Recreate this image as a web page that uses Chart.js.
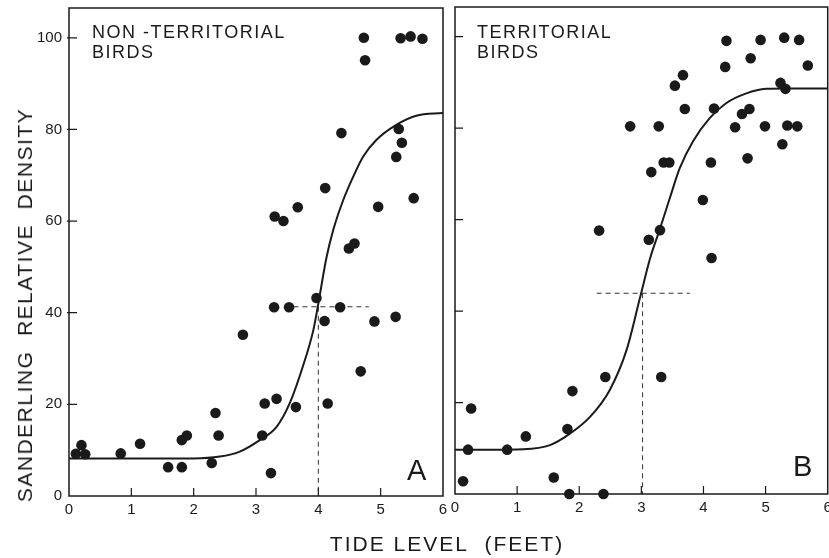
<!DOCTYPE html>
<html>
<head>
<meta charset="utf-8">
<script src="https://cdn.jsdelivr.net/npm/chart.js@4.4.0/dist/chart.umd.min.js"></script>
<style>
  body { margin: 0; background: #fff; width: 829px; height: 558px; overflow: hidden; position: relative; font-family: "Liberation Sans", sans-serif; color: #1a1a1a; }
  #wrapA { position: absolute; left: 0; top: 0; width: 450px; height: 558px; }
  #wrapB { position: absolute; left: 447px; top: 0; width: 386px; height: 558px; }
  .ytitle { position: absolute; left: 25px; top: 305px; transform: translate(-50%, -50%) rotate(-90deg); white-space: nowrap; font-size: 21px; letter-spacing: 1.5px; }
  .xtitle { position: absolute; left: 447px; top: 544px; transform: translate(-50%, -50%); white-space: nowrap; font-size: 21px; letter-spacing: 2px; }
</style>
</head>
<body>
<div id="wrapA"><canvas id="chartA"></canvas></div>
<div id="wrapB"><canvas id="chartB"></canvas></div>
<div class="ytitle">SANDERLING&nbsp; RELATIVE&nbsp; DENSITY</div>
<div class="xtitle">TIDE LEVEL&nbsp; (FEET)</div>
<script>
// axis ticks
const xTicks = [0, 1, 2, 3, 4, 5, 6];
const yTicks = [0, 20, 40, 60, 80, 100];

// Panel A - non-territorial birds
const tideA = [4.73, 4.75, 5.32, 5.48, 5.67, 4.37, 5.29, 5.34, 5.25, 5.53, 4.11, 3.67, 3.30, 3.44, 4.96, 4.49, 4.58,
    3.97, 3.29, 3.53, 4.35, 4.10, 4.90, 5.24, 2.79, 4.68, 3.14, 3.33, 3.64, 4.15, 2.35, 3.10, 2.40, 1.81, 1.89,
    1.14, 0.20, 0.11, 0.26, 0.83, 1.59, 1.81, 2.29, 3.24];
const densityA = [100, 95.1, 99.9, 100.3, 99.8, 79.2, 80.1, 77.1, 74.0, 65.0, 67.2, 63.0, 61.0, 60.0, 63.1, 54.0, 55.1,
    43.2, 41.2, 41.2, 41.2, 38.2, 38.1, 39.1, 35.2, 27.2, 20.2, 21.2, 19.4, 20.2, 18.1, 13.2, 13.2, 12.2, 13.2,
    11.4, 11.1, 9.2, 9.1, 9.3, 6.3, 6.3, 7.2, 5.0];
const curveTideA = [0, 1, 2, 2.42, 2.74, 3.06, 3.33, 3.54, 3.75, 3.92, 4.0, 4.13, 4.24, 4.4, 4.56, 4.72, 4.93, 5.25, 5.57, 6.0];
const curveDensityA = [8.2, 8.2, 8.2, 8.6, 9.7, 12.2, 15.1, 20.2, 28.2, 36.2, 42, 52, 58.1, 64.6, 69.7, 74.1, 77.7, 81, 83, 83.6];
const halfTideA = 4.0;
const halfDensityA = 41.3;
const halfSpanA = [3.6, 4.81];

// Panel B - territorial birds
const tideB = [4.37, 4.92, 5.30, 5.54, 4.76, 4.35, 5.68, 3.67, 3.54, 5.24, 5.32, 3.70, 4.17, 4.74, 4.62, 2.82, 3.28,
    4.51, 4.99, 5.35, 5.51, 5.27, 4.71, 3.36, 3.45, 4.12, 3.16, 3.99, 2.32, 3.30, 3.12, 4.13,
    2.42, 3.32, 1.89, 0.26, 1.14, 1.81, 0.21, 0.84, 0.13, 1.59, 1.84, 2.39];
const densityB = [99.1, 99.3, 99.8, 99.3, 95.3, 93.4, 93.7, 91.6, 89.3, 89.9, 88.6, 84.2, 84.3, 84.2, 83.1, 80.4, 80.4,
    80.2, 80.4, 80.6, 80.4, 76.5, 73.4, 72.5, 72.5, 72.5, 70.4, 64.3, 57.6, 57.7, 55.6, 51.6,
    25.6, 25.6, 22.5, 18.7, 12.6, 14.2, 9.7, 9.7, 2.8, 3.6, 0, 0];
const curveTideB = [0, 0.56, 1.10, 1.53, 1.85, 2.17, 2.49, 2.76, 2.98, 3.14, 3.30, 3.46, 3.62, 3.83, 4.10, 4.37, 4.69, 5.01, 5.34, 6.0];
const curveDensityB = [9.7, 9.7, 9.8, 10.7, 13.2, 16.8, 22.7, 31.4, 43, 51.5, 58, 64.8, 71.3, 77.1, 82.2, 85.5, 87.6, 88.6, 88.7, 88.7];
const halfTideB = 3.02;
const halfDensityB = 43.9;
const halfSpanB = [2.28, 3.78];

const INK = '#1a1a1a';

// frame, inward tick marks and panel labels
const panelPlugin = {
    id: 'panel',
    afterDraw(chart, args, opts) {
        const { ctx, chartArea: a, scales } = chart;
        ctx.save();
        ctx.strokeStyle = INK;
        ctx.lineWidth = 1.5;
        ctx.strokeRect(a.left, a.top, a.right - a.left, a.bottom - a.top);
        ctx.lineWidth = 1.2;
        ctx.beginPath();
        xTicks.slice(1, -1).forEach(v => {
            const px = scales.x.getPixelForValue(v);
            ctx.moveTo(px, a.bottom);
            ctx.lineTo(px, a.bottom - 8);
        });
        yTicks.slice(1).forEach(v => {
            const py = scales.y.getPixelForValue(v);
            ctx.moveTo(a.left - opts.tickOut, py);
            ctx.lineTo(a.left + 8, py);
        });
        ctx.stroke();

        ctx.fillStyle = INK;
        ctx.textBaseline = 'alphabetic';
        ctx.letterSpacing = '1.5px';
        ctx.font = '18px "Liberation Sans", sans-serif';
        opts.label.forEach((line, i) => ctx.fillText(line, a.left + opts.labelDx, 38 + i * 20));
        ctx.letterSpacing = '0px';
        ctx.font = '29px "Liberation Sans", sans-serif';
        ctx.fillText(opts.letter, a.left + opts.letterDx, a.bottom - opts.letterDy);
        ctx.restore();
    }
};

// keep the plot box fixed: no automatic room for end tick labels
function noPad(s) {
    s.paddingLeft = 0; s.paddingRight = 0; s.paddingTop = 0; s.paddingBottom = 0;
}

function makeChart(id, p) {
    const ctx = document.getElementById(id).getContext('2d');
    return new Chart(ctx, {
        type: 'scatter',
        data: {
            datasets: [
                {
                    data: p.tide.map((t, i) => ({ x: t, y: p.density[i] })),
                    backgroundColor: INK,
                    borderWidth: 0,
                    pointRadius: 5.3,
                    clip: false
                },
                {
                    type: 'line',
                    data: p.curveTide.map((t, i) => ({ x: t, y: p.curveDensity[i] })),
                    borderColor: INK,
                    borderWidth: 2,
                    pointRadius: 0,
                    cubicInterpolationMode: 'monotone',
                    fill: false
                },
                {
                    type: 'line',
                    data: [{ x: p.halfSpan[0], y: p.halfDensity }, { x: p.halfSpan[1], y: p.halfDensity }],
                    borderColor: '#333',
                    borderWidth: 1,
                    borderDash: [5, 4],
                    pointRadius: 0
                },
                {
                    type: 'line',
                    data: [{ x: p.halfTide, y: p.halfDensity }, { x: p.halfTide, y: 0 }],
                    borderColor: '#333',
                    borderWidth: 1,
                    borderDash: [5, 4],
                    pointRadius: 0
                }
            ]
        },
        options: {
            responsive: true,
            maintainAspectRatio: false,
            animation: false,
            layout: { padding: p.padding },
            plugins: {
                legend: { display: false },
                tooltip: { enabled: false },
                panel: p.panel
            },
            scales: {
                x: {
                    type: 'linear',
                    min: 0, max: 6,
                    afterFit: s => { s.height = p.xHeight; noPad(s); },
                    afterBuildTicks: s => { s.ticks = xTicks.map(v => ({ value: v })); },
                    grid: { display: false, drawTicks: false },
                    border: { display: false },
                    ticks: { color: INK, font: { size: 15, family: '"Liberation Sans", sans-serif' }, padding: 5, maxRotation: 0 }
                },
                y: {
                    type: 'linear',
                    min: 0, max: 106.5,
                    afterFit: s => { s.width = p.yWidth; noPad(s); },
                    afterBuildTicks: s => { s.ticks = yTicks.map(v => ({ value: v })); },
                    grid: { display: false, drawTicks: false },
                    border: { display: false },
                    ticks: { display: p.yLabels, color: INK, font: { size: 15, family: '"Liberation Sans", sans-serif' }, padding: 7 }
                }
            }
        },
        plugins: [panelPlugin]
    });
}

makeChart('chartA', {
    tide: tideA, density: densityA, curveTide: curveTideA, curveDensity: curveDensityA,
    halfTide: halfTideA, halfDensity: halfDensityA, halfSpan: halfSpanA,
    padding: { left: 0, top: 8, right: 7, bottom: 0 }, xHeight: 62, yWidth: 69, yLabels: true,
    panel: { label: ['NON -TERRITORIAL', 'BIRDS'], labelDx: 23, letter: 'A', letterDx: 338, letterDy: 16, tickOut: 2 }
});

makeChart('chartB', {
    tide: tideB, density: densityB, curveTide: curveTideB, curveDensity: curveDensityB,
    halfTide: halfTideB, halfDensity: halfDensityB, halfSpan: halfSpanB,
    padding: { left: 0, top: 7, right: 1, bottom: 0 }, xHeight: 64, yWidth: 8, yLabels: false,
    panel: { label: ['TERRITORIAL', 'BIRDS'], labelDx: 22, letter: 'B', letterDx: 338, letterDy: 18, tickOut: 0 }
});
</script>
</body>
</html>
